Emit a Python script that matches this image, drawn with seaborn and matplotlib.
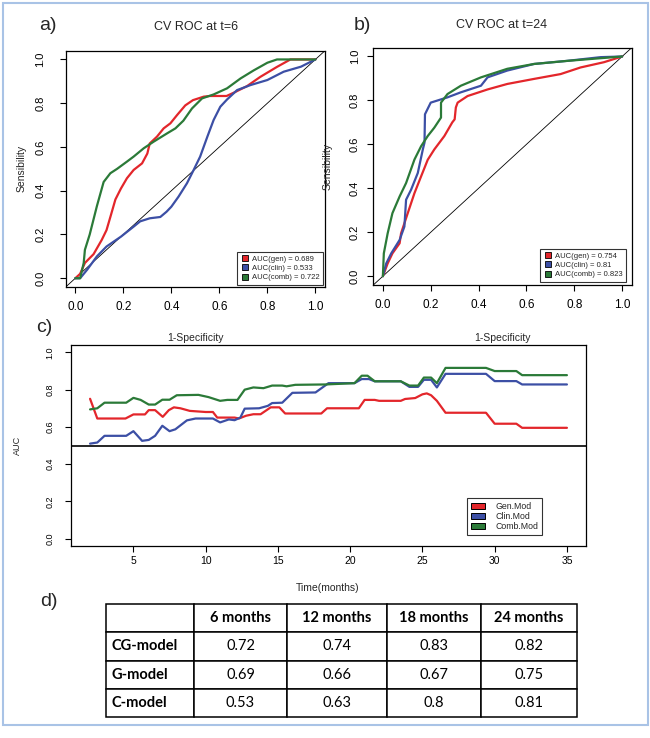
import numpy as np
import pandas as pd
import seaborn as sns
import matplotlib
matplotlib.use("Agg")
import matplotlib.pyplot as plt
from matplotlib.lines import Line2D
from matplotlib.patches import Patch, Rectangle

# ---------------- data ----------------
# Panel a: CV ROC at t=6
a_gen_fpr = [0.0, 0.02, 0.04, 0.076, 0.11, 0.13, 0.146, 0.167, 0.19, 0.215, 0.243, 0.278, 0.30, 0.31, 0.34, 0.368, 0.396, 0.424, 0.458, 0.49, 0.535, 0.56, 0.63, 0.66, 0.715, 0.77, 0.84, 0.896, 1.0]
a_gen_tpr = [0.0, 0.02, 0.07, 0.11, 0.175, 0.22, 0.28, 0.36, 0.41, 0.457, 0.495, 0.525, 0.57, 0.616, 0.647, 0.685, 0.708, 0.746, 0.79, 0.814, 0.83, 0.833, 0.833, 0.848, 0.878, 0.92, 0.966, 1.0, 1.0]
a_clin_fpr = [0.0, 0.02, 0.05, 0.09, 0.13, 0.19, 0.243, 0.27, 0.31, 0.354, 0.38, 0.40, 0.43, 0.465, 0.493, 0.52, 0.55, 0.576, 0.604, 0.632, 0.674, 0.73, 0.80, 0.868, 0.94, 1.0]
a_clin_tpr = [0.0, 0.0, 0.04, 0.10, 0.145, 0.19, 0.236, 0.26, 0.274, 0.28, 0.304, 0.327, 0.373, 0.434, 0.495, 0.556, 0.647, 0.723, 0.784, 0.817, 0.86, 0.883, 0.906, 0.944, 0.967, 1.0]
a_comb_fpr = [0.0, 0.02, 0.035, 0.04, 0.06, 0.09, 0.118, 0.146, 0.174, 0.215, 0.243, 0.285, 0.326, 0.382, 0.417, 0.45, 0.486, 0.528, 0.576, 0.632, 0.688, 0.743, 0.80, 0.84, 1.0]
a_comb_tpr = [0.0, 0.0, 0.07, 0.13, 0.20, 0.33, 0.44, 0.48, 0.50, 0.533, 0.556, 0.594, 0.624, 0.662, 0.685, 0.72, 0.776, 0.822, 0.84, 0.868, 0.913, 0.95, 0.985, 1.0, 1.0]
a_auc = ["0.689", "0.533", "0.722"]

# Panel b: CV ROC at t=24
b_gen_fpr = [0.0, 0.02, 0.04, 0.07, 0.076, 0.104, 0.132, 0.16, 0.1875, 0.215, 0.257, 0.29, 0.30, 0.305, 0.3125, 0.354, 0.4375, 0.52, 0.632, 0.743, 0.826, 0.924, 1.0]
b_gen_tpr = [0.0, 0.058, 0.104, 0.15, 0.195, 0.287, 0.378, 0.455, 0.53, 0.577, 0.638, 0.70, 0.714, 0.768, 0.79, 0.82, 0.85, 0.875, 0.898, 0.92, 0.95, 0.974, 1.0]
b_clin_fpr = [0.0, 0.014, 0.035, 0.07, 0.09, 0.097, 0.118, 0.146, 0.167, 0.174, 0.176, 0.20, 0.27, 0.326, 0.41, 0.4375, 0.52, 0.632, 0.77, 0.91, 1.0]
b_clin_tpr = [0.0, 0.058, 0.104, 0.165, 0.226, 0.348, 0.394, 0.47, 0.577, 0.608, 0.737, 0.79, 0.814, 0.837, 0.867, 0.905, 0.936, 0.966, 0.98, 0.997, 1.0]
b_comb_fpr = [0.0, 0.004, 0.02, 0.04, 0.07, 0.097, 0.132, 0.16, 0.1875, 0.215, 0.243, 0.243, 0.27, 0.326, 0.41, 0.52, 0.632, 0.77, 1.0]
b_comb_tpr = [0.0, 0.104, 0.195, 0.287, 0.363, 0.424, 0.531, 0.592, 0.638, 0.676, 0.722, 0.79, 0.829, 0.867, 0.905, 0.944, 0.966, 0.98, 1.0]
b_auc = ["0.754", "0.81", "0.823"]

# Panel c: AUC over time
c_gen_t = [2.0, 2.5, 4.45, 5.0, 5.8, 6.06, 6.5, 7.03, 7.45, 7.8, 8.25, 8.9, 10.0, 10.5, 10.8, 12.0, 12.3, 12.8, 13.3, 13.8, 14.5, 15.1, 15.5, 18.0, 18.4, 20.6, 21.0, 21.7, 22.0, 23.5, 23.8, 24.5, 25.0, 25.3, 25.6, 26.0, 26.6, 29.4, 30.0, 31.5, 31.9, 35.0]
c_gen_auc = [0.751, 0.645, 0.645, 0.667, 0.667, 0.69, 0.69, 0.654, 0.69, 0.705, 0.70, 0.686, 0.68, 0.68, 0.65, 0.65, 0.645, 0.66, 0.668, 0.668, 0.705, 0.705, 0.672, 0.672, 0.70, 0.70, 0.745, 0.745, 0.74, 0.74, 0.75, 0.755, 0.775, 0.78, 0.77, 0.74, 0.676, 0.676, 0.617, 0.617, 0.595, 0.595]
c_clin_t = [2.0, 2.5, 3.0, 4.5, 5.0, 5.6, 6.06, 6.5, 7.0, 7.5, 7.9, 8.7, 9.3, 10.5, 11.0, 11.6, 12.0, 12.4, 12.7, 13.7, 14.3, 14.6, 15.3, 16.0, 17.6, 18.5, 20.3, 20.8, 21.3, 21.7, 23.5, 24.1, 24.7, 25.1, 25.6, 26.0, 26.6, 29.4, 30.0, 31.5, 31.9, 35.0]
c_clin_auc = [0.51, 0.516, 0.552, 0.552, 0.577, 0.525, 0.53, 0.552, 0.606, 0.577, 0.587, 0.635, 0.645, 0.645, 0.624, 0.64, 0.636, 0.65, 0.698, 0.70, 0.713, 0.728, 0.73, 0.783, 0.785, 0.835, 0.835, 0.857, 0.857, 0.845, 0.845, 0.815, 0.815, 0.853, 0.853, 0.812, 0.885, 0.885, 0.846, 0.846, 0.828, 0.828]
c_comb_t = [2.0, 2.5, 3.0, 4.5, 5.0, 5.5, 6.06, 6.5, 7.0, 7.5, 8.0, 9.5, 10.2, 11.0, 11.5, 12.2, 12.7, 13.3, 14.0, 14.6, 15.3, 15.6, 16.2, 18.3, 20.3, 20.8, 21.2, 21.7, 23.5, 24.1, 24.7, 25.1, 25.6, 26.0, 26.6, 29.4, 30.0, 31.5, 31.9, 35.0]
c_comb_auc = [0.694, 0.70, 0.73, 0.73, 0.756, 0.745, 0.72, 0.72, 0.746, 0.746, 0.77, 0.772, 0.76, 0.74, 0.745, 0.745, 0.80, 0.812, 0.808, 0.822, 0.822, 0.818, 0.826, 0.828, 0.835, 0.875, 0.875, 0.845, 0.845, 0.822, 0.822, 0.865, 0.865, 0.835, 0.917, 0.917, 0.90, 0.90, 0.878, 0.878]
c_labels = ["Gen.Mod", "Clin.Mod", "Comb.Mod"]

# Panel d: table
tbl_cols = ["", "6 months", "12 months", "18 months", "24 months"]
tbl_rows = ["CG-model", "G-model", "C-model"]
tbl_cg = [0.72, 0.74, 0.83, 0.82]
tbl_g = [0.69, 0.66, 0.67, 0.75]
tbl_c = [0.53, 0.63, 0.8, 0.81]

roc_ticks = [0.0, 0.2, 0.4, 0.6, 0.8, 1.0]
c_xticks = [5, 10, 15, 20, 25, 30, 35]
c_yticks = [0.0, 0.2, 0.4, 0.6, 0.8, 1.0]

# ---------------- style ----------------
sns.set_theme(style="ticks")
plt.rcParams['font.family'] = ['Liberation Sans', 'DejaVu Sans']
RED, BLUE, GREEN = "#e3262b", "#3c4fa5", "#2b7a38"
models = ["gen", "clin", "comb"]
pal = dict(zip(models, [RED, BLUE, GREEN]))

W, H = 650, 738
fig = plt.figure(figsize=(6.5, 7.38), dpi=100)
fig.patch.set_facecolor("white")


def px_axes(x0, y0, x1, y1):
    return fig.add_axes([x0 / W, 1 - y1 / H, (x1 - x0) / W, (y1 - y0) / H])


def ftext(x, y, s, **kw):
    fig.text(x / W, 1 - y / H, s, **kw)


def style_box(ax, xt_size, yt_size, ypad, xpad, tlen):
    for sp in ax.spines.values():
        sp.set_visible(True)
        sp.set_color("black")
        sp.set_linewidth(0.9)
    ax.tick_params(axis="x", direction="out", length=tlen, width=0.8, colors="black",
                   labelsize=xt_size, pad=xpad)
    ax.tick_params(axis="y", direction="out", length=tlen, width=0.8, colors="black",
                   labelsize=yt_size, pad=ypad, labelrotation=90)
    for lab in ax.get_yticklabels():
        lab.set_va("center")
    ax.set_facecolor("white")
    ax.grid(False)


def roc_panel(ax, data, aucs, ypad, lab_x, lab_y):
    rows = []
    for m, (fpr, tpr) in zip(models, data):
        rows.append(pd.DataFrame({"fpr": fpr, "tpr": tpr, "model": m}))
    df = pd.concat(rows, ignore_index=True)
    ax.axline((0, 0), (1, 1), color="black", lw=0.6)
    sns.lineplot(data=df, x="fpr", y="tpr", hue="model", palette=pal, sort=False,
                 estimator=None, lw=1.6, legend=False, ax=ax)
    ax.set_xlim(-0.04, 1.04)
    ax.set_ylim(-0.04, 1.04)
    ax.set_xticks(roc_ticks)
    ax.set_yticks(roc_ticks)
    ax.set_xticklabels([f"{v:.1f}" for v in roc_ticks])
    ax.set_yticklabels([f"{v:.1f}" for v in roc_ticks])
    style_box(ax, 8.5, 8, ypad, 5.5, 4.5)
    ax.set_xlabel("1-Specificity", fontsize=7.5)
    ax.set_ylabel("Sensibility", fontsize=7.5)
    ax.xaxis.set_label_coords(0.5, lab_y)
    ax.yaxis.set_label_coords(lab_x, 0.5)
    handles = [Line2D([], [], ls="", marker="s", markersize=4.5, markerfacecolor=pal[m],
                      markeredgecolor="black", markeredgewidth=0.6) for m in models]
    labels = [f"AUC({m}) = {a}" for m, a in zip(models, aucs)]
    return handles, labels


# Panel a
ax_a = px_axes(65.7, 50.7, 325, 287)
h, l = roc_panel(ax_a, [(a_gen_fpr, a_gen_tpr), (a_clin_fpr, a_clin_tpr), (a_comb_fpr, a_comb_tpr)],
                 a_auc, 10, -0.149, -0.195)
leg = ax_a.legend(h, l, loc="lower right", bbox_to_anchor=(0.993, 0.008), borderaxespad=0,
                  fontsize=5.5, frameon=True, fancybox=False, edgecolor="black",
                  handlelength=1.0, handletextpad=0.4, labelspacing=0.25, borderpad=0.5)
leg.get_frame().set_linewidth(0.8)

# Panel b
ax_b = px_axes(373.3, 47.7, 631.7, 285)
h, l = roc_panel(ax_b, [(b_gen_fpr, b_gen_tpr), (b_clin_fpr, b_clin_tpr), (b_comb_fpr, b_comb_tpr)],
                 b_auc, 5, -0.156, -0.202)
leg = ax_b.legend(h, l, loc="lower right", bbox_to_anchor=(0.978, 0.0126), borderaxespad=0,
                  fontsize=5.5, frameon=True, fancybox=False, edgecolor="black",
                  handlelength=1.0, handletextpad=0.4, labelspacing=0.25, borderpad=0.5)
leg.get_frame().set_linewidth(0.8)

# Panel c
ax_c = px_axes(71, 345, 586, 546)
df_c = pd.concat([
    pd.DataFrame({"t": c_gen_t, "auc": c_gen_auc, "model": "gen"}),
    pd.DataFrame({"t": c_clin_t, "auc": c_clin_auc, "model": "clin"}),
    pd.DataFrame({"t": c_comb_t, "auc": c_comb_auc, "model": "comb"}),
], ignore_index=True)
sns.lineplot(data=df_c, x="t", y="auc", hue="model", palette=pal, sort=False,
             estimator=None, lw=1.6, legend=False, ax=ax_c)
ax_c.axhline(0.5, color="black", lw=1.2)
t_all = np.concatenate([c_gen_t, c_clin_t, c_comb_t])
span = t_all.max() - t_all.min()
ax_c.set_xlim(t_all.min() - 0.04 * span, t_all.max() + 0.04 * span)
ax_c.set_ylim(-0.04, 1.04)
ax_c.set_xticks(c_xticks)
ax_c.set_yticks(c_yticks)
ax_c.set_yticklabels([f"{v:.1f}" for v in c_yticks])
style_box(ax_c, 7.5, 6.5, 8, 3.5, 4)
ax_c.set_xlabel("Time(months)", fontsize=7.5)
ax_c.set_ylabel("AUC", fontsize=6.5)
ax_c.xaxis.set_label_coords(0.499, -0.185)
ax_c.yaxis.set_label_coords(-0.095, 0.5)
hc = [Patch(facecolor=pal[m], edgecolor="black", linewidth=0.7) for m in models]
leg = ax_c.legend(hc, c_labels, loc="lower right", bbox_to_anchor=(0.9146, 0.0547),
                  borderaxespad=0, fontsize=6.3, frameon=True, fancybox=False,
                  edgecolor="black", handlelength=1.6, handleheight=0.6,
                  handletextpad=1.2, labelspacing=0.12, borderpad=0.45)
leg.get_frame().set_linewidth(0.8)

# Panel labels and titles
ftext(39, 25, "a)", fontsize=14, va="center", ha="left")
ftext(196, 27, "CV ROC at t=6", fontsize=9, va="center", ha="center")
ftext(354, 25, "b)", fontsize=14, va="center", ha="left")
ftext(502, 25, "CV ROC at t=24", fontsize=9, va="center", ha="center")
ftext(36, 327, "c)", fontsize=14, va="center", ha="left")
ftext(40, 602, "d)", fontsize=14, va="center", ha="left")

# Table
ax_t = px_axes(106, 604, 577, 717)
ax_t.axis("off")
widths = np.array([88, 93, 100, 94, 96], dtype=float)
widths = widths / widths.sum()
cell_text = [[name] + [str(v) for v in vals] for name, vals in
             zip(tbl_rows, [tbl_cg, tbl_g, tbl_c])]
table = ax_t.table(cellText=cell_text, colLabels=tbl_cols, colWidths=list(widths),
                   cellLoc="center", bbox=[0, 0, 1, 1])
table.auto_set_font_size(False)
for (r, c), cell in table.get_celld().items():
    cell.set_edgecolor("black")
    cell.set_linewidth(1.1)
    cell.set_facecolor("white")
    bold = (r == 0) or (c == 0)
    txt = cell.get_text()
    txt.set_fontfamily(["Lato", "DejaVu Sans"])
    txt.set_fontsize(10.5)
    txt.set_fontweight("bold" if bold else "normal")
    txt.set_color("black")
    if c == 0:
        cell._loc = "left"
        cell.PAD = 0.06
        txt.set_horizontalalignment("left")

# Outer light-blue frame
fig.add_artist(Rectangle((3 / W, 1 - 725 / H), 645 / W, 722 / H, transform=fig.transFigure,
                         fill=False, edgecolor="#a9c3e6", lw=1.5))

fig.savefig("out.png", dpi=100, facecolor="white")
